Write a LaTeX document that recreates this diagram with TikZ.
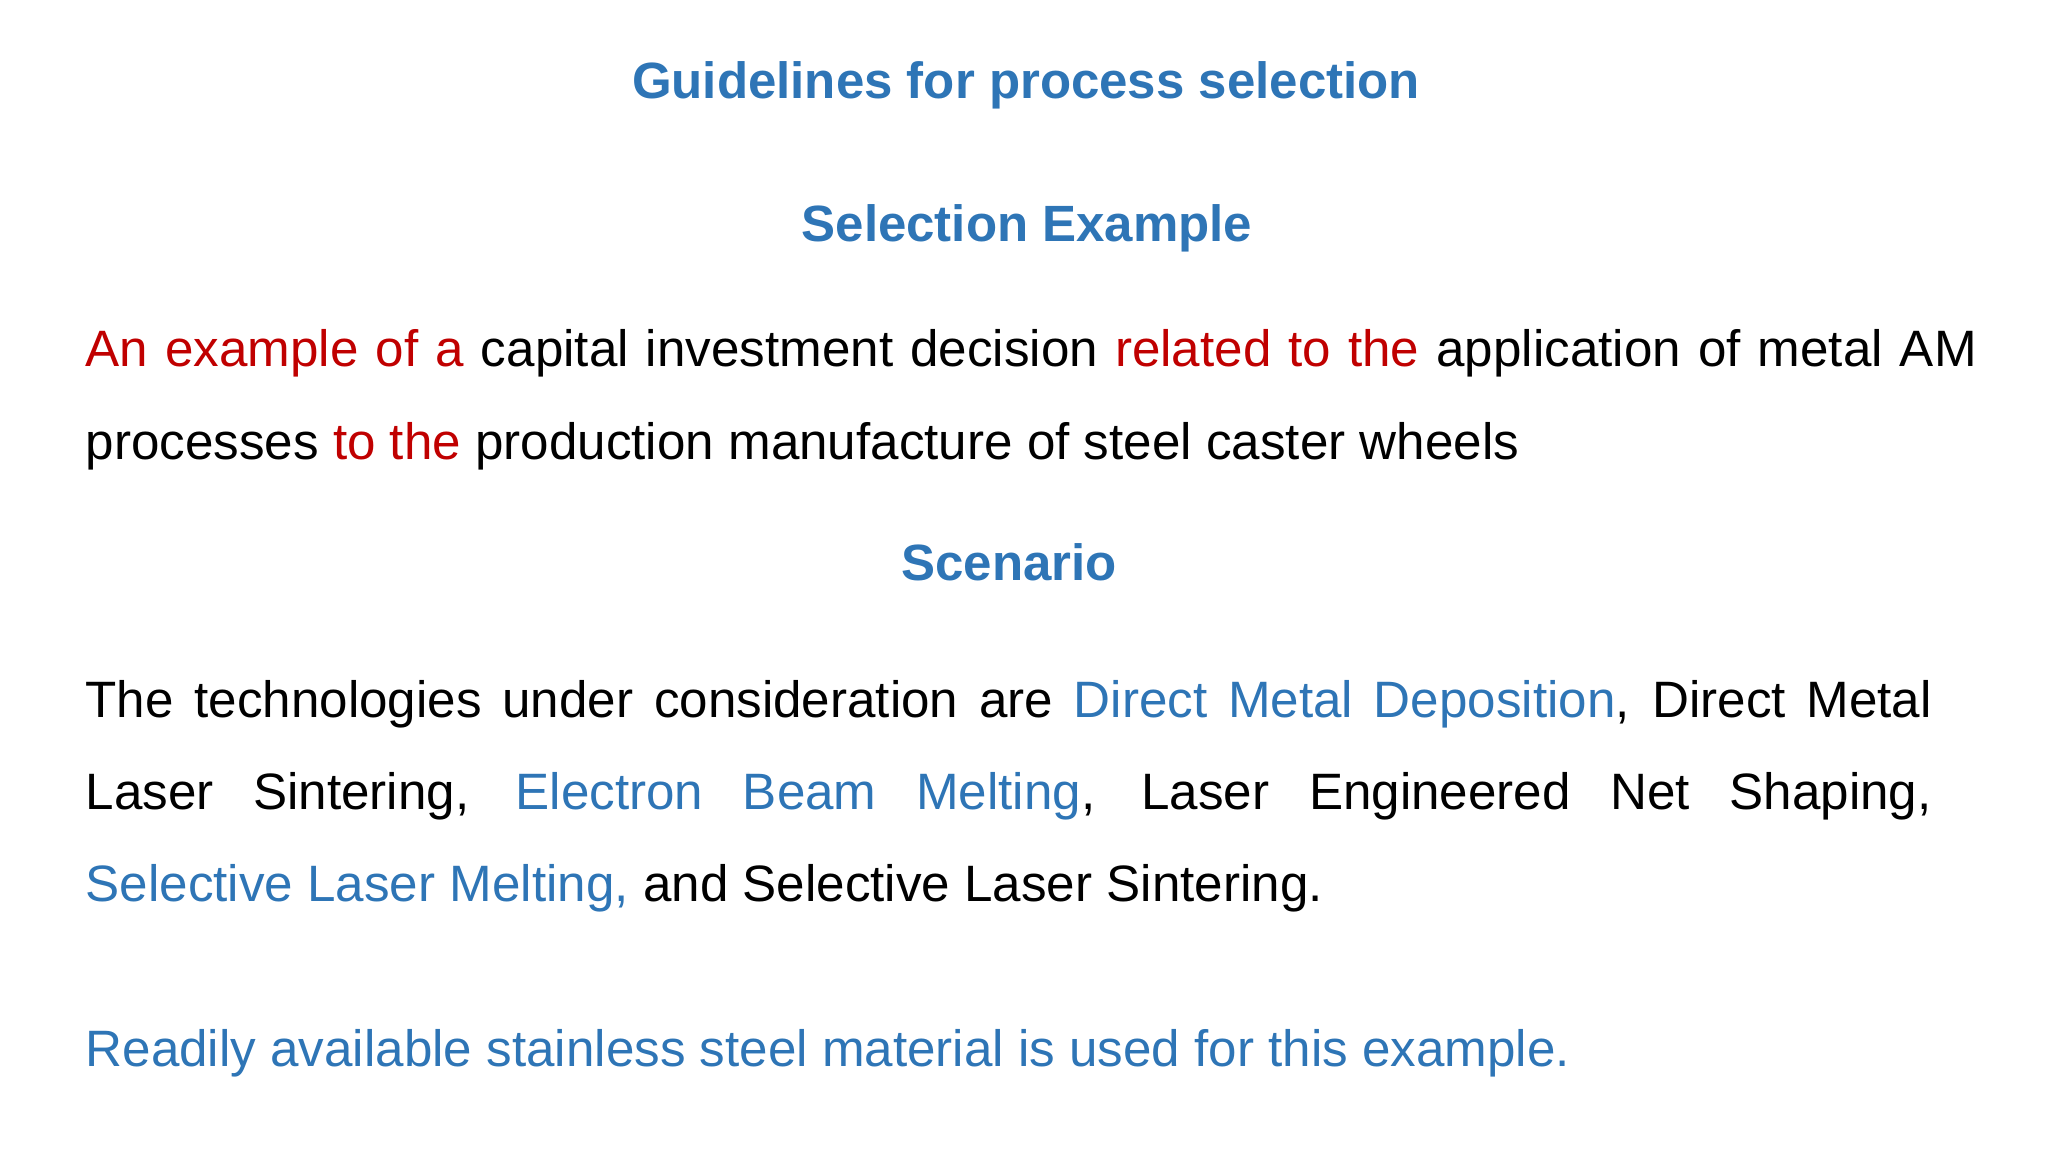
\documentclass[tikz,border=0pt]{standalone}
\usepackage{fontspec}
\setmainfont{Liberation Sans}
\definecolor{tblue}{HTML}{2E75B6}
\definecolor{tred}{HTML}{C00000}
\tikzset{head/.style={font=\bfseries\fontsize{14.5pt}{17pt}\selectfont, text=tblue, inner sep=0pt},
body/.style={font=\fontsize{14.55pt}{17pt}\selectfont, anchor=west, inner sep=0pt}}
\begin{document}
\begin{tikzpicture}[x=0.01cm,y=-0.01cm]
\useasboundingbox[fill=white] (0,0) rectangle (2048,1152);
\node[head] (t1) at (1026,85) {Guidelines for process selection};
\node[head] (t2) at (1027,228) {Selection Example};
\node[body] (l1) at (85,353) {\makebox[18.9cm][s]{\textcolor{tred}{An example of a} capital investment decision \textcolor{tred}{related to the} application of metal AM}};
\node[body] (l2) at (85,446) {processes \textcolor{tred}{to the} production manufacture of steel caster wheels};
\node[head] (t3) at (1009,562) {Scenario};
\node[body] (p1) at (85,704) {\makebox[18.45cm][s]{The technologies under consideration are \textcolor{tblue}{Direct Metal Deposition}, Direct Metal}};
\node[body] (p2) at (85,796) {\makebox[18.45cm][s]{Laser Sintering, \textcolor{tblue}{Electron Beam Melting}, Laser Engineered Net Shaping,}};
\node[body] (p3) at (85,888) {\textcolor{tblue}{Selective Laser Melting,} and Selective Laser Sintering.};
\node[body, text=tblue] (r) at (85,1053) {Readily available stainless steel material is used for this example.};
\end{tikzpicture}
\end{document}
